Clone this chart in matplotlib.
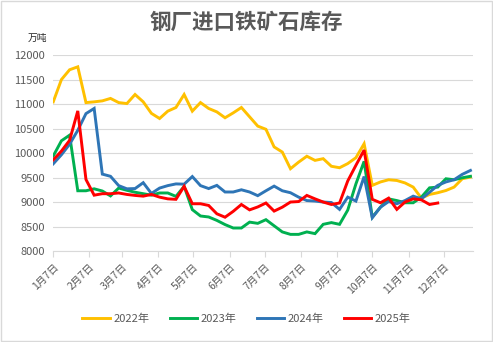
import matplotlib
matplotlib.use('Agg')
import matplotlib.pyplot as plt
import matplotlib.dates as mdates
from matplotlib.patches import Rectangle
import pandas as pd

plt.rcParams['font.family'] = ['Noto Sans CJK SC', 'DejaVu Sans']

# 周度数据（统一到同一年的日期轴上）
weeks = pd.date_range('2022-01-07', periods=52, freq='7D')

y2022 = [11045, 11500, 11700, 11760, 11030, 11045, 11065, 11115, 11030, 11010,
         11195, 11045, 10810, 10705, 10855, 10930, 11195, 10855, 11030, 10910,
         10840, 10720, 10820, 10930, 10740, 10550, 10485, 10125, 10020, 9680,
         9815, 9935, 9850, 9885, 9730, 9700, 9785, 9905, 10190, 9340,
         9410, 9455, 9440, 9390, 9305, 9080, 9155, 9190, 9235, 9305,
         9475, 9510]
y2023 = [9940, 10250, 10365, 9230, 9230, 9270, 9225, 9125, 9285, 9240,
         9200, 9170, 9140, 9185, 9185, 9115, 9320, 8845, 8715, 8695,
         8625, 8540, 8470, 8470, 8590, 8565, 8640, 8515, 8390, 8340,
         8340, 8390, 8355, 8545, 8580, 8545, 8835, 9370, 9830, 8690,
         8895, 9065, 9030, 8985, 8985, 9100, 9290, 9305, 9475, 9455,
         9495, 9525]
y2024 = [9780, 9965, 10180, 10465, 10805, 10910, 9570, 9525, 9335, 9270,
         9275, 9395, 9175, 9285, 9335, 9370, 9365, 9520, 9335, 9275,
         9340, 9205, 9205, 9250, 9205, 9130, 9230, 9325, 9230, 9190,
         9100, 9030, 9020, 9000, 8990, 8850, 9100, 9020, 9520, 8680,
         8895, 9010, 8965, 9030, 9120, 9065, 9200, 9340, 9410, 9455,
         9565, 9645]
y2025 = [9860, 10040, 10260, 10860, 9460, 9140, 9170, 9170, 9185, 9155,
         9135, 9120, 9155, 9100, 9065, 9055, 9320, 8965, 8965, 8930,
         8760, 8690, 8810, 8950, 8840, 8900, 8980, 8815, 8895, 9000,
         9010, 9135, 9065, 9000, 8950, 8980, 9430, 9750, 10060, 9055,
         8985, 9080, 8850, 9000, 9065, 9045, 8950, 8980]

series = [('2022年', y2022, '#FFC000'),
          ('2023年', y2023, '#00B050'),
          ('2024年', y2024, '#2E75B6'),
          ('2025年', y2025, '#FF0000')]

gray = '#595959'
grid = '#d9d9d9'

fig = plt.figure(figsize=(4.93, 3.42), dpi=100)
ax = fig.add_axes([0.108, 0.266, 0.851, 0.573])

for name, vals, c in series:
    ax.plot(weeks[:len(vals)], vals, color=c, linewidth=2.1, label=name,
            solid_joinstyle='miter')

ax.set_ylim(8000, 12000)
ax.set_yticks(range(8000, 12001, 500))
ax.set_xlim(pd.Timestamp('2022-01-07'), pd.Timestamp('2023-01-01'))
ax.xaxis.set_major_locator(mdates.MonthLocator(bymonthday=7))
ax.xaxis.set_major_formatter(mdates.DateFormatter('%-m月%-d日'))

ax.grid(axis='y', color=grid, linewidth=0.8)
ax.set_axisbelow(True)
for s in ['top', 'right', 'left']:
    ax.spines[s].set_visible(False)
ax.spines['bottom'].set_color(grid)
ax.spines['bottom'].set_linewidth(0.8)
ax.tick_params(axis='y', length=0, labelsize=8, labelcolor=gray, pad=6)
ax.tick_params(axis='x', length=4, color=grid, labelsize=7.5, labelcolor=gray, pad=4)
for lab in ax.get_xticklabels():
    lab.set_rotation(45)
    lab.set_ha('right')
    lab.set_rotation_mode('anchor')

fig.text(0.5, 0.935, '钢厂进口铁矿石库存', ha='center', va='center',
         fontsize=15.5, fontweight='bold', color=gray)
fig.text(0.075, 0.89, '万吨', ha='center', va='center', fontsize=7, color='#262626')

fig.legend(loc='center', bbox_to_anchor=(0.5, 0.067), ncol=4, frameon=False,
           fontsize=8, labelcolor=gray, handlelength=2.5, columnspacing=1.8,
           handletextpad=0.3)

fig.patches.append(Rectangle((0.002, 0.003), 0.996, 0.994, transform=fig.transFigure,
                             fill=False, edgecolor=grid, linewidth=1))

fig.savefig('out.png', dpi=100)
